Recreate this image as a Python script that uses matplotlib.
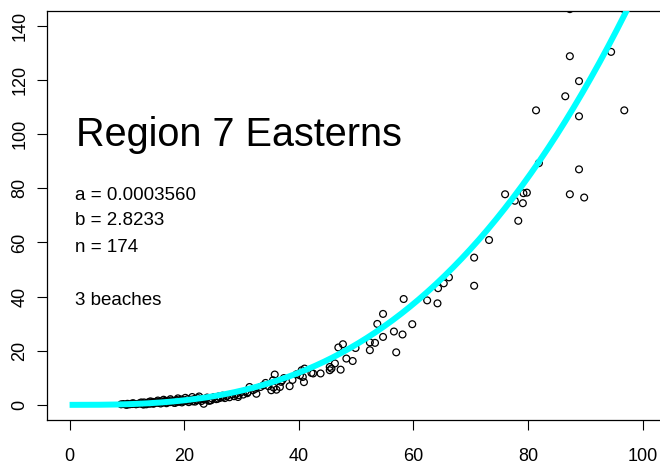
import numpy as np
import matplotlib
matplotlib.use("Agg")
import matplotlib.pyplot as plt

plt.rcParams["font.family"] = ["Liberation Sans", "DejaVu Sans"]

# Fitted power curve y = a * x^b
a = 0.0003560
b = 2.8233
n = 174
title = "Region 7 Easterns"
beaches = "3 beaches"

x_upper = [87.3, 96.8, 87.3, 94.5, 88.9, 86.5, 81.4, 96.8, 88.9, 81.9, 88.9,
           76.0, 79.2, 79.8, 77.7, 79.1, 87.3, 89.8, 78.3, 73.2, 70.6]
y_upper = [146.2, 146.1, 128.8, 130.4, 119.6, 114.0, 108.8, 108.8, 106.6, 89.3, 87.0,
           77.8, 78.2, 78.4, 75.4, 74.5, 77.8, 76.6, 68.0, 60.9, 54.4]

x_mid = [70.6, 66.2, 65.3, 64.3, 62.4, 64.2, 58.3, 54.7, 59.8, 53.7, 56.6, 58.1,
         54.7, 53.3, 52.4, 57.0, 52.4, 47.7, 46.9, 49.9, 48.3, 49.4, 47.3, 46.3,
         45.7, 45.4, 43.8, 42.5, 42.2, 40.9, 41.0, 40.5, 40.7, 38.4, 37.4, 37.1,
         35.8, 35.5, 36.7, 36.1, 35.2, 35.6, 34.2, 33.3, 32.6, 32.0, 31.4, 31.1,
         29.4, 26.8, 25.9, 24.7, 23.4, 45.4, 40.2]
y_mid = [44.0, 47.1, 44.9, 43.1, 38.6, 37.5, 39.1, 33.6, 29.8, 29.9, 27.1, 26.0,
         25.1, 22.9, 20.2, 19.4, 23.1, 22.4, 21.2, 21.0, 17.1, 16.2, 13.0, 15.3,
         13.4, 12.8, 11.6, 11.6, 11.8, 8.4, 13.4, 12.8, 10.3, 6.9, 9.9, 9.1,
         11.2, 9.1, 6.6, 5.6, 5.4, 6.4, 8.1, 6.6, 4.1, 5.4, 6.6, 4.7,
         2.9, 2.9, 2.3, 1.7, 0.4, 14.0, 10.9]

x_low = [9.0, 9.4, 9.8, 10.1, 10.5, 10.9, 11.2, 11.6, 12.0, 12.3,
         12.7, 13.0, 13.2, 13.5, 13.8, 14.0, 14.3, 14.5, 14.8, 15.0,
         15.2, 15.5, 15.7, 16.0, 16.2, 16.5, 16.7, 17.0, 17.2, 17.5,
         17.7, 18.0, 18.2, 18.5, 18.7, 19.0, 19.2, 19.5, 19.8, 20.0,
         20.3, 20.6, 20.9, 21.2, 21.5, 21.8, 22.1, 22.4, 22.8, 23.1,
         23.6, 24.0, 24.3, 24.8, 25.2, 25.6, 26.0, 26.3, 26.7, 27.1,
         27.5, 27.9, 28.3, 28.7, 29.1, 29.5, 29.9, 30.3, 30.7, 31.0,
         13.4, 14.6, 15.9, 16.9, 18.4, 19.6, 20.8, 21.9, 23.0, 24.5,
         11.0, 12.5, 14.1, 15.4, 16.4, 17.6, 18.9, 20.2, 21.4, 22.6,
         32.4, 33.8, 34.7, 36.9, 38.9, 39.6, 10.0, 12.9]
y_low = [0.2, 0.3, 0.1, 0.4, 0.2, 0.3, 0.5, 0.2, 0.4, 0.6,
         0.3, 0.9, 0.5, 0.7, 1.0, 0.4, 0.8, 1.1, 0.6, 0.9,
         1.2, 0.7, 1.0, 1.3, 0.8, 1.1, 1.5, 0.9, 1.3, 1.0,
         1.6, 1.2, 0.8, 1.4, 1.8, 1.1, 1.5, 2.0, 1.3, 1.7,
         1.4, 2.1, 1.6, 1.9, 1.3, 2.2, 1.7, 2.5, 1.9, 2.3,
         2.0, 2.7, 1.5, 2.4, 2.9, 2.1, 3.1, 2.6, 3.4, 2.5,
         3.3, 2.8, 3.9, 3.2, 4.1, 3.6, 4.6, 3.8, 5.0, 4.3,
         0.2, 0.4, 0.5, 0.6, 0.7, 0.9, 1.0, 1.2, 1.4, 1.6,
         0.6, 0.9, 1.3, 1.6, 1.9, 2.1, 2.4, 2.6, 2.9, 3.1,
         5.9, 7.2, 6.9, 8.5, 9.2, 11.3, 0.0, 0.1]

x_pts = x_upper + x_mid + x_low
y_pts = y_upper + y_mid + y_low

fig = plt.figure(figsize=(6.6, 4.67), dpi=100)
ax = fig.add_axes([0.0707, 0.1006, 0.9377, 0.8764])

ax.scatter(x_pts, y_pts, s=24, facecolors="none", edgecolors="black", linewidths=0.9, zorder=2)

xs = np.linspace(0, 100, 400)
ax.plot(xs, a * xs ** b, color="#00FFFF", lw=4.3, zorder=3, solid_capstyle="butt")

ax.set_xlim(-4, 104)
ax.set_ylim(-5.6, 145.6)
ax.set_xticks(range(0, 101, 20))
ax.set_yticks(range(0, 141, 20))
ax.tick_params(axis="both", direction="out", length=7, width=0.8, labelsize=13)
ax.tick_params(axis="x", pad=13)
ax.tick_params(axis="y", pad=6)
for lab in ax.get_yticklabels():
    lab.set_rotation(90)
    lab.set_va("center")
for sp in ax.spines.values():
    sp.set_linewidth(0.9)

#Annotation text in data units
ax.text(1.2, 95.5, title, fontsize=28.5, ha="left", va="baseline")
ax.text(1.0, 75.7, f"a = {a:.7f}", fontsize=13.5, ha="left", va="baseline")
ax.text(1.0, 66.4, f"b = {b:.4f}", fontsize=13.5, ha="left", va="baseline")
ax.text(1.0, 56.6, f"n = {n}", fontsize=13.5, ha="left", va="baseline")
ax.text(1.0, 36.9, beaches, fontsize=13.5, ha="left", va="baseline")

fig.savefig("out.png", dpi=100)
